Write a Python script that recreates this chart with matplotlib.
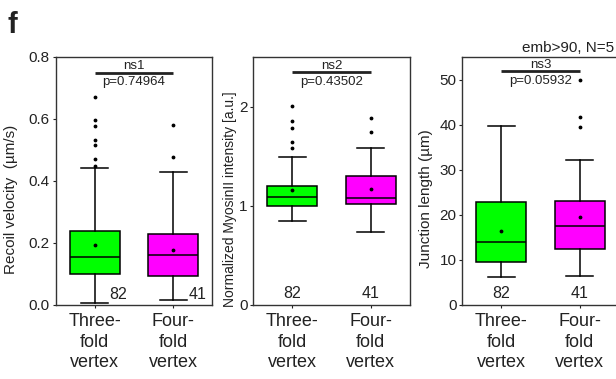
import matplotlib
matplotlib.use("Agg")
import matplotlib.pyplot as plt

plt.rcParams['font.family'] = ['Liberation Sans', 'DejaVu Sans']

groups = ["Three-\nfold\nvertex", "Four-\nfold\nvertex"]
counts = [82, 41]
box_colors = ["#00ff00", "#ff00ff"]

# recoil velocity (um/s): whislo, q1, med, q3, whishi, mean
recoil_three = [0.005, 0.099, 0.155, 0.240, 0.441, 0.194]
recoil_four = [0.015, 0.093, 0.161, 0.228, 0.430, 0.178]
recoil_fliers_three = [0.45, 0.471, 0.516, 0.531, 0.578, 0.598, 0.67]
recoil_fliers_four = [0.479, 0.58]

# normalized myosin II intensity
myo_three = [0.844, 0.998, 1.086, 1.203, 1.496, 1.16]
myo_four = [0.736, 1.022, 1.076, 1.300, 1.587, 1.173]
myo_fliers_three = [1.587, 1.64, 1.785, 1.855, 2.007]
myo_fliers_four = [1.741, 1.886]

# junction length (um)
junc_three = [6.1, 9.5, 13.9, 22.8, 39.6, 16.5]
junc_four = [6.4, 12.4, 17.6, 23.1, 32.1, 19.6]
junc_fliers_three = []
junc_fliers_four = [39.5, 41.6, 50.0]

sig_labels = ["ns1", "ns2", "ns3"]
p_values = ["p=0.74964", "p=0.43502", "p=0.05932"]


def make_stats(v, fl):
    return dict(whislo=v[0], q1=v[1], med=v[2], q3=v[3], whishi=v[4], mean=v[5], fliers=fl)


W, H = 616, 379
fig = plt.figure(figsize=(W / 100, H / 100), dpi=100)

panels = [
    dict(left=55.5, stats=[make_stats(recoil_three, recoil_fliers_three), make_stats(recoil_four, recoil_fliers_four)],
         ylim=(0, 0.8), yticks=[0.0, 0.2, 0.4, 0.6, 0.8], fmt="{:.1f}",
         ylabel="Recoil velocity  (\u00b5m/s)", labsize=11, labx=18, sig=0.75, nside=True),
    dict(left=253, stats=[make_stats(myo_three, myo_fliers_three), make_stats(myo_four, myo_fliers_four)],
         ylim=(0, 2.5), yticks=[0, 1, 2], fmt="{:.0f}",
         ylabel="Normalized MyosinII intensity [a.u.]", labsize=10, labx=237, sig=2.345, nside=False),
    dict(left=462, stats=[make_stats(junc_three, junc_fliers_three), make_stats(junc_four, junc_fliers_four)],
         ylim=(0, 55), yticks=[0, 10, 20, 30, 40, 50], fmt="{:.0f}",
         ylabel="Junction length (\u00b5m)", labsize=11, labx=433, sig=51.8, nside=False),
]

top_px, bot_px, wid_px = 57, 305, 157
dark = "#222222"

for i, p in enumerate(panels):
    ax = fig.add_axes([p["left"] / W, 1 - bot_px / H, wid_px / W, (bot_px - top_px) / H])
    bp = ax.bxp(p["stats"], positions=[1, 2], widths=0.64, capwidths=0.34,
                showmeans=True, patch_artist=True,
                boxprops=dict(edgecolor="black", linewidth=1.1),
                medianprops=dict(color="black", linewidth=1.1),
                whiskerprops=dict(color="black", linewidth=1.1),
                capprops=dict(color="black", linewidth=1.1),
                meanprops=dict(marker=".", markerfacecolor="black", markeredgecolor="black", markersize=3.5),
                flierprops=dict(marker=".", markerfacecolor="black", markeredgecolor="black", markersize=3.5))
    for patch, c in zip(bp["boxes"], box_colors):
        patch.set_facecolor(c)

    ax.set_xlim(0.5, 2.5)
    ax.set_ylim(*p["ylim"])
    ax.set_yticks(p["yticks"])
    ax.set_yticklabels([p["fmt"].format(t) for t in p["yticks"]])
    ax.set_xticks([1, 2])
    ax.set_xticklabels(groups, linespacing=1.3)
    ax.tick_params(axis="y", labelsize=11, length=2.5, width=0.8, pad=1.5, colors=dark)
    ax.tick_params(axis="x", labelsize=13, length=2.5, width=0.8, pad=3, colors=dark)
    for s in ax.spines.values():
        s.set_color("#333333")
        s.set_linewidth(1.0)

    ax.set_ylabel(p["ylabel"], fontsize=p["labsize"], color=dark)
    ax.yaxis.set_label_coords((p["labx"] - p["left"]) / wid_px, (bot_px - 199) / (bot_px - top_px))

    # significance bar
    ax.plot([1, 2], [p["sig"], p["sig"]], color=dark, linewidth=2.0, solid_capstyle="butt")
    ax.annotate(sig_labels[i], xy=(1.5, p["sig"]), xytext=(0, 0.5), textcoords="offset points",
                ha="center", va="bottom", fontsize=9.5, color=dark)
    ax.annotate(p_values[i], xy=(1.5, p["sig"]), xytext=(0, -2.5), textcoords="offset points",
                ha="center", va="top", fontsize=9.5, color=dark)

    # group sizes
    for x, n in zip([1, 2], counts):
        if p["nside"]:
            ax.annotate(str(n), xy=(x + 0.19, 0), xytext=(0, 2), textcoords="offset points",
                        ha="left", va="bottom", fontsize=11.5, color=dark)
        else:
            ax.annotate(str(n), xy=(x, 0), xytext=(0, 3), textcoords="offset points",
                        ha="center", va="bottom", fontsize=11.5, color=dark)

fig.text(522 / W, 1 - 52 / H, "emb>90, N=5", fontsize=11, color=dark, ha="left", va="baseline")
fig.text(8 / W, 1 - 33 / H, "f", fontsize=21, fontweight="bold", color=dark, ha="left", va="baseline")

fig.savefig("out.png", dpi=100)
